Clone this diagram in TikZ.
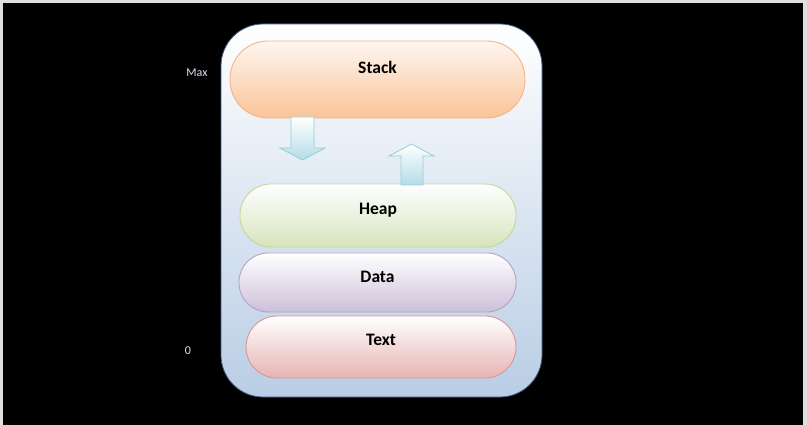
\documentclass[tikz,border=0pt]{standalone}
\usepackage{fontspec}
\setmainfont{Carlito}
\begin{document}
\begin{tikzpicture}[x=1pt,y=-1pt,
  seg/.style={rectangle, rounded corners=#1, inner sep=0pt, line width=0.9pt},
  lbl/.style={font=\bfseries\fontsize{17.5}{20}\selectfont, text=black},
  side/.style={font=\fontsize{12}{14}\selectfont, text={rgb,255:red,220;green,228;blue,240}},
  blockarrow/.style={draw={rgb,255:red,150;green,205;blue,220}, line width=0.8pt, top color=white, bottom color={rgb,255:red,180;green,220;blue,232}}
]
\useasboundingbox (0,0) rectangle (807,425);
\fill[gray!25] (0,0) rectangle (807,425);
\fill[black] (3,3) rectangle (803,425);

% outer container
\node[seg=42, draw={rgb,255:red,60;green,90;blue,130}, line width=0.8pt,
  top color=white, bottom color={rgb,255:red,185;green,205;blue,229},
  minimum width=321, minimum height=373] (mem) at (381.5,210.5) {};

% segments
\node[seg=38, draw={rgb,255:red,244;green,180;blue,135},
  top color={rgb,255:red,254;green,246;blue,240}, bottom color={rgb,255:red,250;green,196;blue,152},
  minimum width=295, minimum height=77,
  label={[lbl,yshift=12.5]center:Stack}] (stack) at (377.5,79.5) {};

\node[seg=31, draw={rgb,255:red,195;green,214;blue,155},
  top color=white, bottom color={rgb,255:red,214;green,228;blue,188},
  minimum width=276, minimum height=63,
  label={[lbl,yshift=5.5]center:Heap}] (heap) at (378,215.5) {};

\node[seg=29, draw={rgb,255:red,179;green,162;blue,199},
  top color=white, bottom color={rgb,255:red,204;green,192;blue,218},
  minimum width=277, minimum height=59,
  label={[lbl,yshift=5.5]center:Data}] (data) at (377.5,282.5) {};

\node[seg=31, draw={rgb,255:red,217;green,150;blue,148},
  top color=white, bottom color={rgb,255:red,230;green,180;blue,179},
  minimum width=270, minimum height=62,
  label={[lbl,yshift=7]center:Text}] (txt) at (381,347) {};

% block arrows
\path[blockarrow] (291,117) -- (314,117) -- (314,148) -- (325,148) -- (302.5,160)
  -- (280,148) -- (291,148) -- cycle;
\path[blockarrow] (401,185) -- (401,156) -- (389,156) -- (411.5,144) -- (434,156)
  -- (423,156) -- (423,185) -- cycle;

% side labels
\node[side] (max) at (197,73) {Max};
\node[side] (zero) at (188,351) {0};
\end{tikzpicture}
\end{document}
